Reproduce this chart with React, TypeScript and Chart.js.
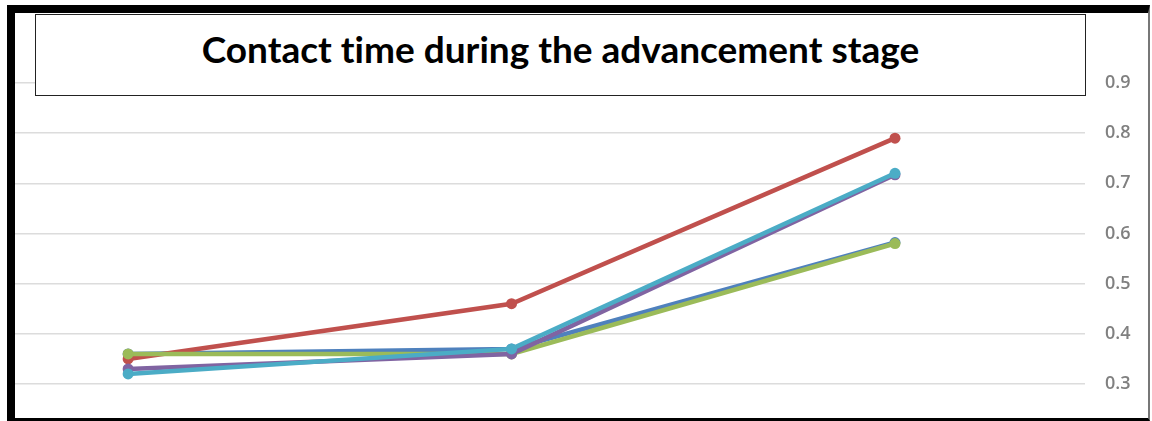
import React, { useEffect, useRef } from "react";
import { Chart, registerables } from "chart.js";

Chart.register(...registerables);

// Three measurement points along the advancement stage
const stages = ["Stage 1", "Stage 2", "Stage 3"];

// Contact time (s) per series
const seriesBlue = [0.36, 0.37, 0.582];
const seriesRed = [0.35, 0.46, 0.79];
const seriesGreen = [0.36, 0.36, 0.58];
const seriesPurple = [0.33, 0.36, 0.717];
const seriesCyan = [0.32, 0.37, 0.72];

const yTicks = [0.3, 0.4, 0.5, 0.6, 0.7, 0.8, 0.9];

const titleText = "Contact time during the advancement stage";

const toPoints = (vals: number[]) => vals.map((v, i) => ({ x: i, y: v }));

export default function App() {
  const canvasRef = useRef<HTMLCanvasElement | null>(null);

  useEffect(() => {
    if (!canvasRef.current) return;
    const mk = (label: string, data: number[], color: string, order: number) => ({
      label,
      data: toPoints(data),
      borderColor: color,
      backgroundColor: color,
      borderWidth: 4.5,
      pointRadius: 5.5,
      pointHoverRadius: 5.5,
      pointBorderWidth: 0,
      tension: 0,
      order,
    });
    const chart = new Chart(canvasRef.current, {
      type: "line",
      data: {
        labels: stages,
        datasets: [
          mk("Series 1", seriesBlue, "#4F81BD", 5),
          mk("Series 2", seriesRed, "#C0504D", 4),
          mk("Series 3", seriesGreen, "#9BBB59", 3),
          mk("Series 4", seriesPurple, "#8064A2", 2),
          mk("Series 5", seriesCyan, "#4BACC6", 1),
        ],
      },
      options: {
        animation: false,
        responsive: false,
        maintainAspectRatio: false,
        layout: { padding: { left: 15, top: 83, bottom: 37, right: 0 } },
        plugins: {
          legend: { display: false },
          title: { display: false },
          tooltip: { enabled: false },
        },
        datasets: { line: { clip: false as any } },
        scales: {
          x: {
            type: "linear",
            display: false,
            min: -0.295,
            max: 2.4955,
          },
          y: {
            position: "right",
            min: 0.3,
            max: 0.9,
            afterFit: (scale: any) => {
              scale.width = 67;
            },
            afterBuildTicks: (scale: any) => {
              scale.ticks = yTicks.map((v) => ({ value: v }));
            },
            border: { display: false },
            grid: {
              color: "#dcdcdc",
              lineWidth: 1.5,
              drawTicks: false,
            },
            ticks: {
              padding: 20,
              color: "#808080",
              font: { family: "'Open Sans'", size: 18, weight: "600" as any },
              callback: (v: any) => Number(v).toFixed(1),
            },
          },
        },
      },
    });
    return () => chart.destroy();
  }, []);

  return (
    <div
      style={{
        position: "fixed",
        left: 0,
        top: 0,
        width: 1152,
        height: 421,
        background: "#ffffff",
        overflow: "hidden",
      }}
    >
      <canvas
        ref={canvasRef}
        width={1152}
        height={421}
        style={{ position: "absolute", left: 0, top: 0, width: 1152, height: 421 }}
      />
      {/* outer frame */}
      <div
        style={{
          position: "absolute",
          left: 7,
          top: 5,
          width: 1143,
          height: 416,
          boxSizing: "border-box",
          borderTop: "8px solid #000",
          borderLeft: "8px solid #000",
          borderBottom: "3px solid #000",
          borderRight: "2px solid #777",
          pointerEvents: "none",
        }}
      />
      {/* title box */}
      <div
        style={{
          position: "absolute",
          left: 35,
          top: 14,
          width: 1051,
          height: 82,
          boxSizing: "border-box",
          border: "1.5px solid #222",
          background: "#fff",
        }}
      >
        <div
          style={{
            position: "absolute",
            left: 0,
            right: 0,
            top: 11,
            textAlign: "center",
            fontFamily: "Lato, 'Open Sans', sans-serif",
            fontWeight: 700,
            fontSize: 37,
            fontVariantLigatures: "none",
            lineHeight: "normal",
            color: "#000",
            whiteSpace: "nowrap",
          }}
        >
          {titleText}
        </div>
      </div>
    </div>
  );
}
